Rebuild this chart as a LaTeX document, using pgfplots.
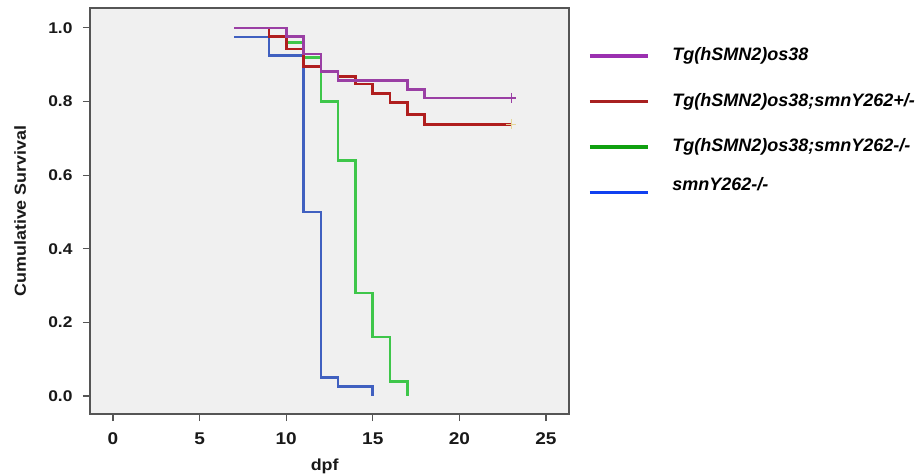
\documentclass[border=0pt]{standalone}
\usepackage{fontspec}
\setmainfont{Liberation Sans}
\newfontfamily\tickfont[FakeStretch=1.12]{Liberation Sans}
\usepackage{pgfplots}
\pgfplotsset{compat=1.18}
\definecolor{bgc}{HTML}{F0F0F0}
\definecolor{axc}{HTML}{555555}
\definecolor{cpur}{HTML}{9A3FA4}
\definecolor{cred}{HTML}{B01E1E}
\definecolor{cgrn}{HTML}{3EC64A}
\definecolor{cblu}{HTML}{4060C0}
\definecolor{lpur}{HTML}{9B30B0}
\definecolor{lred}{HTML}{A82020}
\definecolor{lgrn}{HTML}{10A010}
\definecolor{lblu}{HTML}{1040F0}
\definecolor{ccens}{HTML}{E6D698}
\begin{document}
\begin{tikzpicture}
\path[use as bounding box] (-90pt,-61pt) rectangle (832pt,414pt);
\begin{axis}[
  scale only axis,
  width=479pt, height=406pt,
  xmin=-1.33, xmax=26.33,
  ymin=-0.049, ymax=1.054,
  axis background/.style={fill=bgc},
  axis line style={axc, line width=1.2pt},
  xtick={0,5,10,15,20,25},
  xticklabels={0,5,10,15,20,25},
  ytick={0,0.2,0.4,0.6,0.8,1.0},
  yticklabels={0.0,0.2,0.4,0.6,0.8,1.0},
  xtick pos=bottom, ytick pos=left,
  tick align=outside,
  major tick length=7pt,
  tick style={axc, line width=1.2pt},
  ticklabel style={text=black!90},
  yticklabel style={font=\tickfont\bfseries\fontsize{15.5}{18}\selectfont, xshift=-7pt},
  xticklabel style={font=\tickfont\bfseries\fontsize{17}{20}\selectfont, yshift=-8pt},
  xlabel={dpf},
  ylabel={Cumulative Survival},
  label style={font=\tickfont\bfseries\fontsize{16}{19}\selectfont, text=black!90},
  xlabel style={at={(axis description cs:0.49,-0.13)}, anchor=center},
  ylabel style={at={(axis description cs:-0.146,0.5)}, anchor=center},
  legend cell align=left,
  legend style={draw=none, fill=none,
    at={(axis description cs:1.0334,0.908)}, anchor=north west,
    font=\bfseries\itshape\fontsize{18}{22}\selectfont,
    nodes={text height=13pt, text depth=4pt, inner sep=0pt},
    row sep=28.5pt,
    /tikz/every odd column/.append style={column sep=23pt}},
  legend image code/.code={\draw[#1, line width=3.2pt] (0pt,0pt) -- (58pt,0pt);},
]
\addlegendimage{lpur}
\addlegendentry{Tg(hSMN2)os38}
\addlegendimage{lred}
\addlegendentry{Tg(hSMN2)os38;smnY262+/-}
\addlegendimage{lgrn}
\addlegendentry{Tg(hSMN2)os38;smnY262-/-}
\addlegendimage{lblu}
\addlegendentry{\raisebox{7pt}{smnY262-/-}}

\addplot[const plot, cblu, line width=2.6pt, forget plot] coordinates {
 (7,0.975) (9,0.925) (11,0.5) (12,0.05) (13,0.025) (15,0.025) (15,0)
};
\addplot[const plot, cgrn, line width=2.6pt, forget plot] coordinates {
 (7,1.0) (10,0.96) (11,0.92) (12,0.80) (13,0.64) (14,0.28) (15,0.16) (16,0.04) (17,0.04) (17,0)
};
\addplot[const plot, cred, line width=2.6pt, forget plot] coordinates {
 (7,1.0) (9,0.976) (10,0.943) (11,0.895) (12,0.880) (13,0.868) (14,0.847) (15,0.822) (16,0.798) (17,0.764) (18,0.738) (23,0.738)
};
\addplot[const plot, cpur, line width=2.6pt, forget plot] coordinates {
 (7,1.0) (10,0.976) (11,0.929) (12,0.881) (13,0.857) (17,0.833) (18,0.810) (23,0.810)
};
\addplot[only marks, mark=+, mark size=5pt, ccens, line width=1.6pt, forget plot] coordinates {(23,0.738)};
\addplot[only marks, mark=+, mark size=5pt, cpur, line width=1.6pt, forget plot] coordinates {(23,0.810)};
\end{axis}
\end{tikzpicture}
\end{document}
